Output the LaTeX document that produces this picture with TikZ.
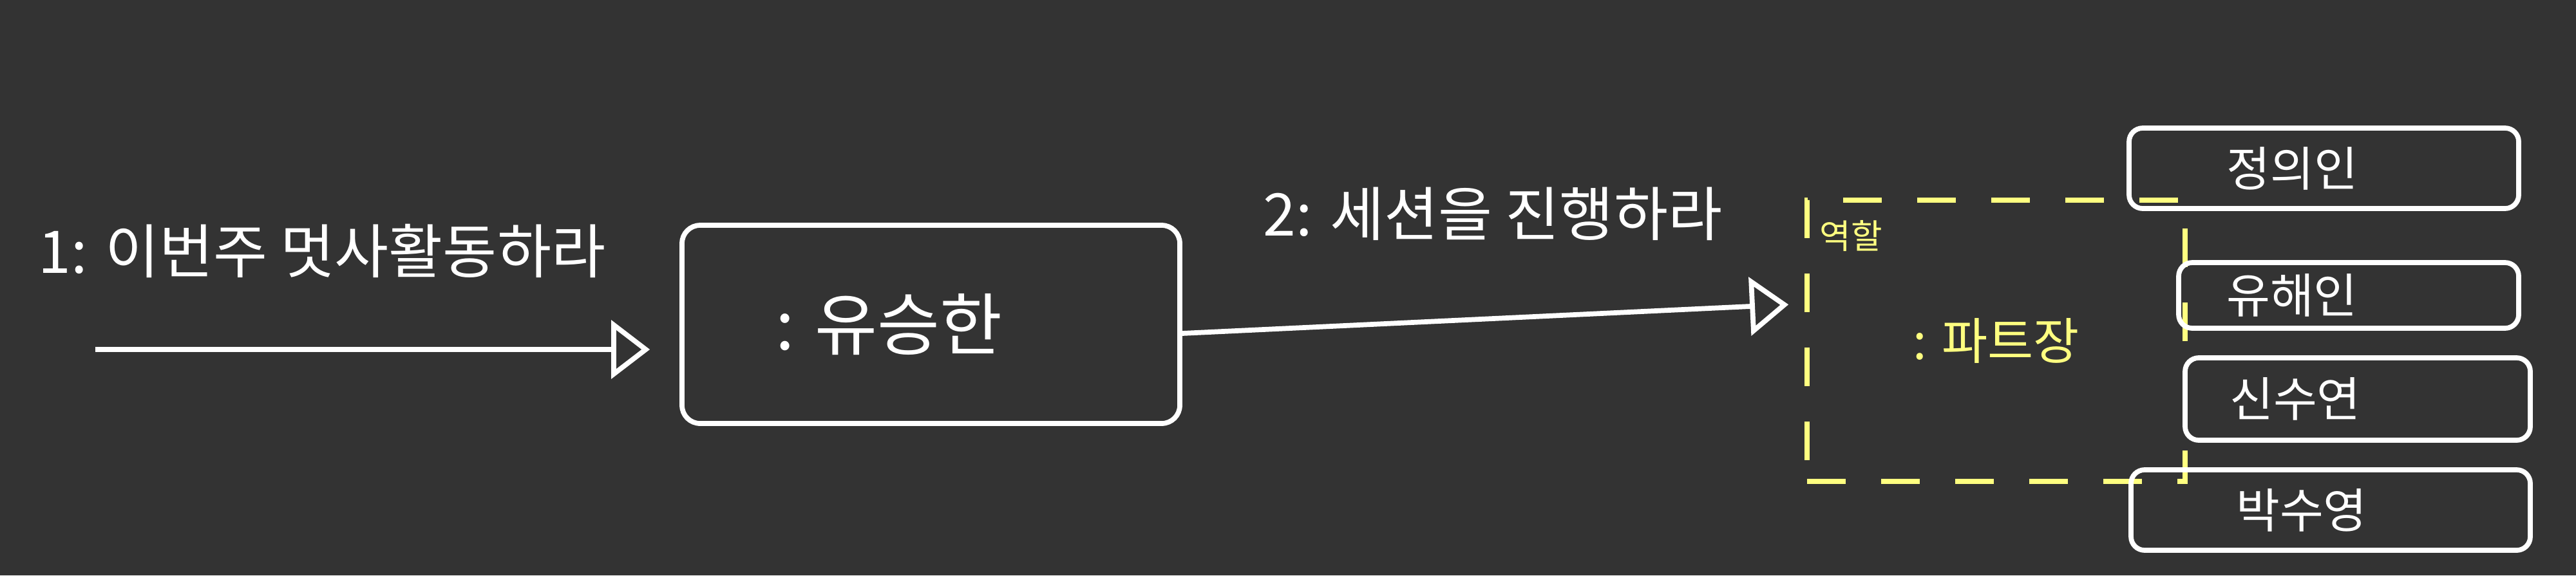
\documentclass[tikz,border=0pt]{standalone}
\usepackage{xcolor}
\usepackage{fontspec}
\usepackage{tikz}
\usetikzlibrary{positioning, arrows.meta}
\newfontfamily\krfont{Noto Sans CJK KR}
\definecolor{board}{HTML}{333333}
\definecolor{marker}{HTML}{FFFF80}

\begin{document}
\begin{tikzpicture}[line width=2.2pt, white, font=\krfont,
		arr/.style={-{Triangle[open, length=0.6cm, width=0.9cm]}, line join=round},
		obj/.style={draw, rectangle, rounded corners=8pt},
		member/.style={draw, rectangle, rounded corners=6pt, font=\krfont\fontsize{21}{24}\selectfont}]
		% Board
		\fill[board] (0,0) rectangle (40,-8.94);

		% Nodes
		\coordinate (start) at (1.48,-5.43);
		\node (yoo) [obj, minimum width=7.73cm, minimum height=3.08cm,
			font=\krfont\fontsize{30}{34}\selectfont] at (14.455,-5.04) {: 유승한\hspace*{1.3cm}};
		\node (part) [draw=marker, dash pattern=on 0.6cm off 0.55cm, text=marker,
			minimum width=5.87cm, minimum height=4.37cm,
			font=\krfont\fontsize{22}{26}\selectfont] at (30.995,-5.295) {: 파트장};
		\node (role) [text=marker, font=\krfont\fontsize{15}{17}\selectfont,
			below right=0.2cm and 0.08cm of part.north west] {역할};

		% Members
		\node (jung) [member, minimum width=6.05cm, minimum height=1.25cm] at (36.085,-2.615) {정의인\hspace*{0.98cm}};
		\node (yuhae) [member, minimum width=5.28cm, minimum height=1.02cm] at (36.47,-4.59) {유해인\hspace*{1.76cm}};
		\node (shin) [member, minimum width=5.36cm, minimum height=1.28cm] at (36.61,-6.20) {신수연\hspace*{1.94cm}};
		\node (park) [member, minimum width=6.20cm, minimum height=1.25cm] at (36.19,-7.925) {박수영\hspace*{0.9cm}};

		% Messages
		\node (msgone) [font=\krfont\fontsize{26}{30}\selectfont] at (5.0,-3.9) {1: 이번주 멋사활동하라};
		\node (msgtwo) [font=\krfont\fontsize{26}{30}\selectfont] at (23.18,-3.32) {2: 세션을 진행하라};

		% Arrows
		\draw[arr, shorten >=0.46cm] (start) -- (start -| yoo.west);
		\draw[arr, shorten >=0.25cm] ([yshift=-0.14cm]yoo.east) -- ([yshift=0.575cm]part.west);
	\end{tikzpicture}
\end{document}
